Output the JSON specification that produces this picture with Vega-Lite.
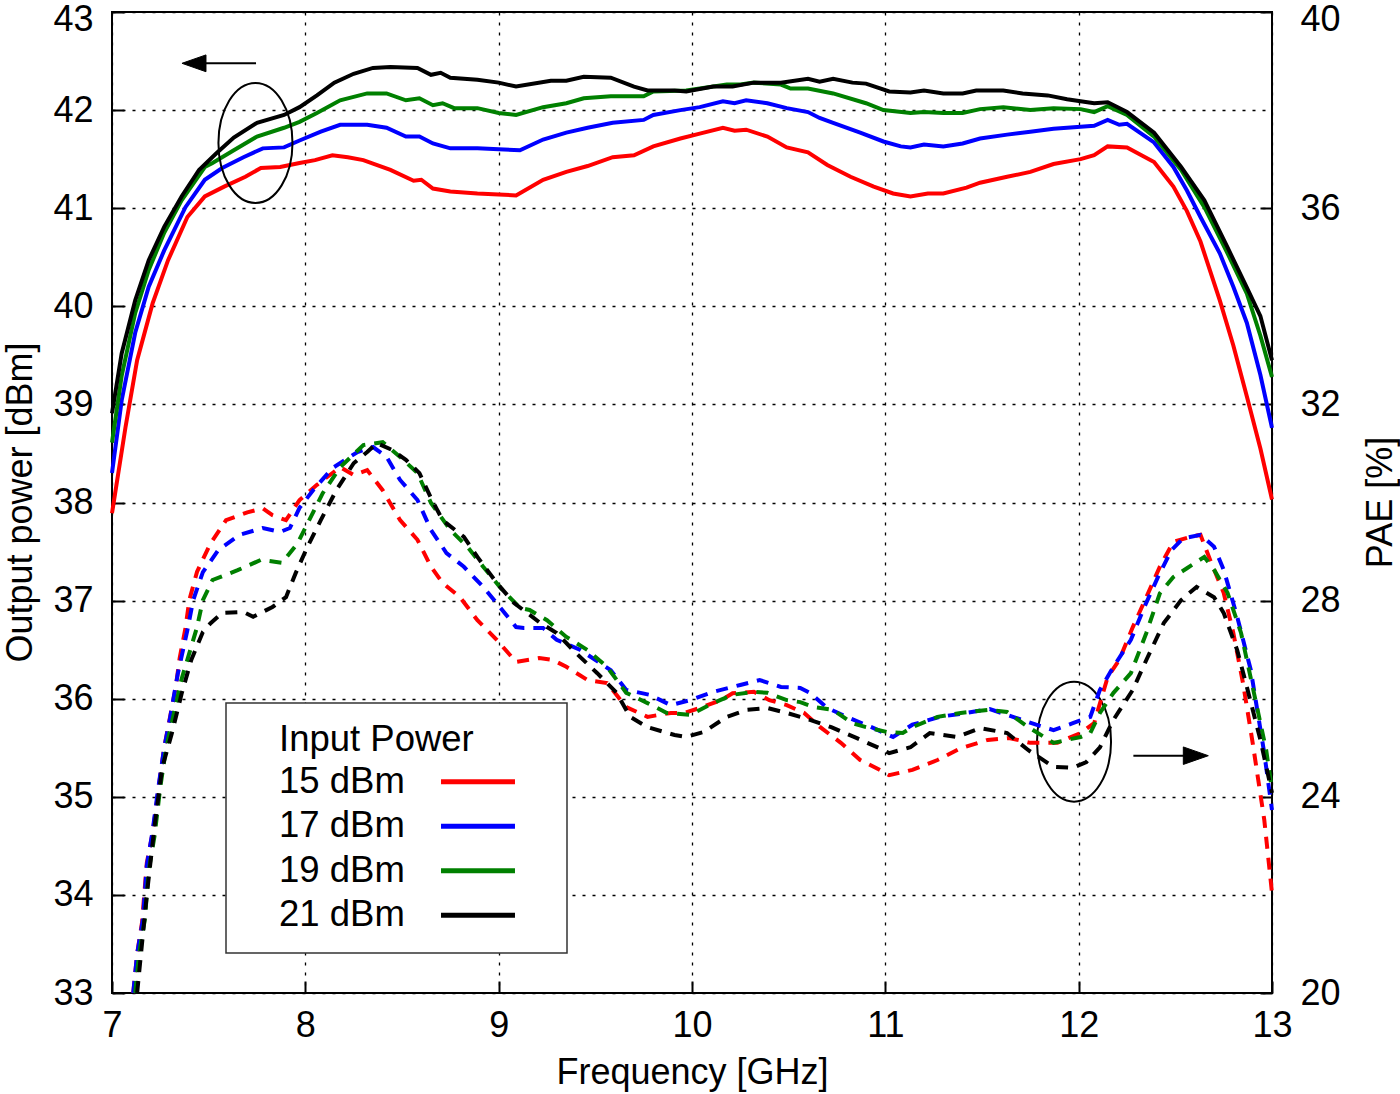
{
"$schema":"https://vega.github.io/schema/vega-lite/v6.json",
"width":1160,"height":981,
"autosize":"none",
"padding":{"left":112,"top":12,"right":128,"bottom":101},
"background":"white",
"config":{
 "font":"Liberation Sans",
 "view":{"stroke":"black","strokeWidth":2},
 "axis":{"labelFont":"Liberation Sans","titleFont":"Liberation Sans","labelFontSize":36,"titleFontSize":36,"titleFontWeight":"normal","labelColor":"black","titleColor":"black","tickColor":"black","tickWidth":2,"tickSize":-12,"domain":false,"labelFlush":false,"labelOverlap":false,"format":"d","gridColor":"black","gridDash":[3,7],"gridWidth":1.3,"gridOpacity":1}
},
"datasets":{
"pw":[
{"s":"15 dBm","f":7.00,"p":37.89},{"s":"15 dBm","f":7.07,"p":38.77},{"s":"15 dBm","f":7.13,"p":39.45},{"s":"15 dBm","f":7.21,"p":40.03},{"s":"15 dBm","f":7.29,"p":40.47},{"s":"15 dBm","f":7.39,"p":40.91},{"s":"15 dBm","f":7.48,"p":41.12},{"s":"15 dBm","f":7.58,"p":41.22},{"s":"15 dBm","f":7.69,"p":41.32},{"s":"15 dBm","f":7.77,"p":41.41},{"s":"15 dBm","f":7.87,"p":41.42},{"s":"15 dBm","f":7.97,"p":41.46},{"s":"15 dBm","f":8.05,"p":41.49},{"s":"15 dBm","f":8.14,"p":41.54},{"s":"15 dBm","f":8.22,"p":41.52},{"s":"15 dBm","f":8.30,"p":41.49},{"s":"15 dBm","f":8.44,"p":41.39},{"s":"15 dBm","f":8.56,"p":41.28},{"s":"15 dBm","f":8.60,"p":41.29},{"s":"15 dBm","f":8.66,"p":41.20},{"s":"15 dBm","f":8.75,"p":41.17},{"s":"15 dBm","f":8.89,"p":41.15},{"s":"15 dBm","f":9.00,"p":41.14},{"s":"15 dBm","f":9.09,"p":41.13},{"s":"15 dBm","f":9.23,"p":41.29},{"s":"15 dBm","f":9.35,"p":41.37},{"s":"15 dBm","f":9.46,"p":41.43},{"s":"15 dBm","f":9.59,"p":41.52},{"s":"15 dBm","f":9.70,"p":41.54},{"s":"15 dBm","f":9.80,"p":41.63},{"s":"15 dBm","f":9.94,"p":41.71},{"s":"15 dBm","f":10.04,"p":41.76},{"s":"15 dBm","f":10.16,"p":41.82},{"s":"15 dBm","f":10.22,"p":41.79},{"s":"15 dBm","f":10.28,"p":41.80},{"s":"15 dBm","f":10.39,"p":41.73},{"s":"15 dBm","f":10.49,"p":41.62},{"s":"15 dBm","f":10.60,"p":41.57},{"s":"15 dBm","f":10.70,"p":41.44},{"s":"15 dBm","f":10.82,"p":41.32},{"s":"15 dBm","f":10.94,"p":41.22},{"s":"15 dBm","f":11.04,"p":41.15},{"s":"15 dBm","f":11.13,"p":41.12},{"s":"15 dBm","f":11.22,"p":41.15},{"s":"15 dBm","f":11.30,"p":41.15},{"s":"15 dBm","f":11.42,"p":41.21},{"s":"15 dBm","f":11.49,"p":41.26},{"s":"15 dBm","f":11.63,"p":41.32},{"s":"15 dBm","f":11.75,"p":41.37},{"s":"15 dBm","f":11.87,"p":41.45},{"s":"15 dBm","f":12.01,"p":41.50},{"s":"15 dBm","f":12.08,"p":41.54},{"s":"15 dBm","f":12.15,"p":41.63},{"s":"15 dBm","f":12.25,"p":41.62},{"s":"15 dBm","f":12.39,"p":41.47},{"s":"15 dBm","f":12.49,"p":41.22},{"s":"15 dBm","f":12.56,"p":40.97},{"s":"15 dBm","f":12.63,"p":40.66},{"s":"15 dBm","f":12.73,"p":40.06},{"s":"15 dBm","f":12.80,"p":39.60},{"s":"15 dBm","f":12.87,"p":39.08},{"s":"15 dBm","f":12.94,"p":38.55},{"s":"15 dBm","f":13.00,"p":38.03},
{"s":"17 dBm","f":7.00,"p":38.30},{"s":"17 dBm","f":7.05,"p":39.04},{"s":"17 dBm","f":7.12,"p":39.73},{"s":"17 dBm","f":7.19,"p":40.20},{"s":"17 dBm","f":7.27,"p":40.57},{"s":"17 dBm","f":7.38,"p":41.01},{"s":"17 dBm","f":7.48,"p":41.29},{"s":"17 dBm","f":7.57,"p":41.41},{"s":"17 dBm","f":7.68,"p":41.52},{"s":"17 dBm","f":7.78,"p":41.61},{"s":"17 dBm","f":7.89,"p":41.62},{"s":"17 dBm","f":7.97,"p":41.69},{"s":"17 dBm","f":8.08,"p":41.78},{"s":"17 dBm","f":8.18,"p":41.85},{"s":"17 dBm","f":8.32,"p":41.85},{"s":"17 dBm","f":8.42,"p":41.82},{"s":"17 dBm","f":8.52,"p":41.73},{"s":"17 dBm","f":8.59,"p":41.73},{"s":"17 dBm","f":8.66,"p":41.66},{"s":"17 dBm","f":8.75,"p":41.61},{"s":"17 dBm","f":8.89,"p":41.61},{"s":"17 dBm","f":9.00,"p":41.60},{"s":"17 dBm","f":9.11,"p":41.59},{"s":"17 dBm","f":9.23,"p":41.70},{"s":"17 dBm","f":9.35,"p":41.77},{"s":"17 dBm","f":9.46,"p":41.82},{"s":"17 dBm","f":9.59,"p":41.87},{"s":"17 dBm","f":9.75,"p":41.90},{"s":"17 dBm","f":9.80,"p":41.95},{"s":"17 dBm","f":9.94,"p":42.00},{"s":"17 dBm","f":10.04,"p":42.03},{"s":"17 dBm","f":10.16,"p":42.09},{"s":"17 dBm","f":10.22,"p":42.07},{"s":"17 dBm","f":10.28,"p":42.10},{"s":"17 dBm","f":10.39,"p":42.07},{"s":"17 dBm","f":10.49,"p":42.02},{"s":"17 dBm","f":10.60,"p":41.98},{"s":"17 dBm","f":10.66,"p":41.92},{"s":"17 dBm","f":10.73,"p":41.87},{"s":"17 dBm","f":10.87,"p":41.77},{"s":"17 dBm","f":10.99,"p":41.68},{"s":"17 dBm","f":11.08,"p":41.63},{"s":"17 dBm","f":11.13,"p":41.62},{"s":"17 dBm","f":11.20,"p":41.65},{"s":"17 dBm","f":11.30,"p":41.63},{"s":"17 dBm","f":11.40,"p":41.66},{"s":"17 dBm","f":11.49,"p":41.71},{"s":"17 dBm","f":11.63,"p":41.75},{"s":"17 dBm","f":11.75,"p":41.78},{"s":"17 dBm","f":11.87,"p":41.81},{"s":"17 dBm","f":12.01,"p":41.83},{"s":"17 dBm","f":12.08,"p":41.84},{"s":"17 dBm","f":12.15,"p":41.90},{"s":"17 dBm","f":12.21,"p":41.85},{"s":"17 dBm","f":12.25,"p":41.86},{"s":"17 dBm","f":12.39,"p":41.67},{"s":"17 dBm","f":12.49,"p":41.42},{"s":"17 dBm","f":12.56,"p":41.18},{"s":"17 dBm","f":12.63,"p":40.91},{"s":"17 dBm","f":12.73,"p":40.54},{"s":"17 dBm","f":12.80,"p":40.20},{"s":"17 dBm","f":12.87,"p":39.83},{"s":"17 dBm","f":12.94,"p":39.30},{"s":"17 dBm","f":13.00,"p":38.76},
{"s":"19 dBm","f":7.00,"p":38.61},{"s":"19 dBm","f":7.05,"p":39.29},{"s":"19 dBm","f":7.12,"p":39.93},{"s":"19 dBm","f":7.19,"p":40.37},{"s":"19 dBm","f":7.27,"p":40.75},{"s":"19 dBm","f":7.36,"p":41.08},{"s":"19 dBm","f":7.48,"p":41.42},{"s":"19 dBm","f":7.52,"p":41.46},{"s":"19 dBm","f":7.63,"p":41.59},{"s":"19 dBm","f":7.75,"p":41.73},{"s":"19 dBm","f":7.89,"p":41.82},{"s":"19 dBm","f":7.97,"p":41.88},{"s":"19 dBm","f":8.06,"p":41.97},{"s":"19 dBm","f":8.18,"p":42.10},{"s":"19 dBm","f":8.32,"p":42.17},{"s":"19 dBm","f":8.42,"p":42.17},{"s":"19 dBm","f":8.52,"p":42.10},{"s":"19 dBm","f":8.59,"p":42.12},{"s":"19 dBm","f":8.66,"p":42.05},{"s":"19 dBm","f":8.71,"p":42.07},{"s":"19 dBm","f":8.77,"p":42.02},{"s":"19 dBm","f":8.89,"p":42.02},{"s":"19 dBm","f":9.00,"p":41.97},{"s":"19 dBm","f":9.09,"p":41.95},{"s":"19 dBm","f":9.23,"p":42.03},{"s":"19 dBm","f":9.35,"p":42.07},{"s":"19 dBm","f":9.44,"p":42.12},{"s":"19 dBm","f":9.58,"p":42.14},{"s":"19 dBm","f":9.75,"p":42.14},{"s":"19 dBm","f":9.80,"p":42.19},{"s":"19 dBm","f":9.97,"p":42.20},{"s":"19 dBm","f":10.18,"p":42.26},{"s":"19 dBm","f":10.25,"p":42.26},{"s":"19 dBm","f":10.32,"p":42.28},{"s":"19 dBm","f":10.46,"p":42.26},{"s":"19 dBm","f":10.51,"p":42.22},{"s":"19 dBm","f":10.60,"p":42.22},{"s":"19 dBm","f":10.73,"p":42.17},{"s":"19 dBm","f":10.90,"p":42.07},{"s":"19 dBm","f":10.99,"p":42.00},{"s":"19 dBm","f":11.13,"p":41.97},{"s":"19 dBm","f":11.20,"p":41.98},{"s":"19 dBm","f":11.30,"p":41.97},{"s":"19 dBm","f":11.40,"p":41.97},{"s":"19 dBm","f":11.49,"p":42.01},{"s":"19 dBm","f":11.61,"p":42.03},{"s":"19 dBm","f":11.75,"p":42.00},{"s":"19 dBm","f":11.87,"p":42.02},{"s":"19 dBm","f":12.01,"p":42.01},{"s":"19 dBm","f":12.08,"p":41.98},{"s":"19 dBm","f":12.15,"p":42.04},{"s":"19 dBm","f":12.25,"p":41.95},{"s":"19 dBm","f":12.39,"p":41.73},{"s":"19 dBm","f":12.53,"p":41.39},{"s":"19 dBm","f":12.65,"p":41.01},{"s":"19 dBm","f":12.77,"p":40.54},{"s":"19 dBm","f":12.87,"p":40.13},{"s":"19 dBm","f":12.94,"p":39.70},{"s":"19 dBm","f":13.00,"p":39.28},
{"s":"21 dBm","f":7.00,"p":38.91},{"s":"21 dBm","f":7.05,"p":39.52},{"s":"21 dBm","f":7.12,"p":40.06},{"s":"21 dBm","f":7.19,"p":40.47},{"s":"21 dBm","f":7.27,"p":40.81},{"s":"21 dBm","f":7.36,"p":41.12},{"s":"21 dBm","f":7.45,"p":41.39},{"s":"21 dBm","f":7.54,"p":41.56},{"s":"21 dBm","f":7.63,"p":41.72},{"s":"21 dBm","f":7.75,"p":41.87},{"s":"21 dBm","f":7.89,"p":41.95},{"s":"21 dBm","f":7.97,"p":42.03},{"s":"21 dBm","f":8.06,"p":42.15},{"s":"21 dBm","f":8.15,"p":42.28},{"s":"21 dBm","f":8.25,"p":42.37},{"s":"21 dBm","f":8.35,"p":42.43},{"s":"21 dBm","f":8.44,"p":42.44},{"s":"21 dBm","f":8.58,"p":42.43},{"s":"21 dBm","f":8.65,"p":42.36},{"s":"21 dBm","f":8.70,"p":42.38},{"s":"21 dBm","f":8.75,"p":42.33},{"s":"21 dBm","f":8.89,"p":42.31},{"s":"21 dBm","f":9.00,"p":42.28},{"s":"21 dBm","f":9.09,"p":42.24},{"s":"21 dBm","f":9.27,"p":42.30},{"s":"21 dBm","f":9.35,"p":42.30},{"s":"21 dBm","f":9.44,"p":42.34},{"s":"21 dBm","f":9.58,"p":42.33},{"s":"21 dBm","f":9.70,"p":42.24},{"s":"21 dBm","f":9.77,"p":42.20},{"s":"21 dBm","f":9.91,"p":42.20},{"s":"21 dBm","f":9.97,"p":42.19},{"s":"21 dBm","f":10.11,"p":42.24},{"s":"21 dBm","f":10.21,"p":42.24},{"s":"21 dBm","f":10.32,"p":42.28},{"s":"21 dBm","f":10.46,"p":42.28},{"s":"21 dBm","f":10.60,"p":42.32},{"s":"21 dBm","f":10.66,"p":42.29},{"s":"21 dBm","f":10.73,"p":42.32},{"s":"21 dBm","f":10.83,"p":42.28},{"s":"21 dBm","f":10.90,"p":42.27},{"s":"21 dBm","f":11.02,"p":42.19},{"s":"21 dBm","f":11.13,"p":42.18},{"s":"21 dBm","f":11.20,"p":42.20},{"s":"21 dBm","f":11.30,"p":42.17},{"s":"21 dBm","f":11.40,"p":42.17},{"s":"21 dBm","f":11.47,"p":42.20},{"s":"21 dBm","f":11.61,"p":42.20},{"s":"21 dBm","f":11.71,"p":42.17},{"s":"21 dBm","f":11.84,"p":42.15},{"s":"21 dBm","f":11.94,"p":42.11},{"s":"21 dBm","f":12.01,"p":42.09},{"s":"21 dBm","f":12.08,"p":42.07},{"s":"21 dBm","f":12.15,"p":42.08},{"s":"21 dBm","f":12.25,"p":41.98},{"s":"21 dBm","f":12.39,"p":41.77},{"s":"21 dBm","f":12.53,"p":41.42},{"s":"21 dBm","f":12.65,"p":41.08},{"s":"21 dBm","f":12.77,"p":40.60},{"s":"21 dBm","f":12.87,"p":40.19},{"s":"21 dBm","f":12.94,"p":39.90},{"s":"21 dBm","f":13.00,"p":39.45}
],
"pae":[
{"s":"15 dBm","f":7.11,"v":20.0},{"s":"15 dBm","f":7.13,"v":20.8},{"s":"15 dBm","f":7.155,"v":21.43},{"s":"15 dBm","f":7.18,"v":22.65},{"s":"15 dBm","f":7.21,"v":23.26},{"s":"15 dBm","f":7.23,"v":23.83},{"s":"15 dBm","f":7.25,"v":24.44},{"s":"15 dBm","f":7.27,"v":25.0},{"s":"15 dBm","f":7.30,"v":25.62},{"s":"15 dBm","f":7.33,"v":26.24},{"s":"15 dBm","f":7.35,"v":26.83},{"s":"15 dBm","f":7.38,"v":27.44},{"s":"15 dBm","f":7.40,"v":28.01},{"s":"15 dBm","f":7.44,"v":28.59},{"s":"15 dBm","f":7.51,"v":29.17},{"s":"15 dBm","f":7.59,"v":29.64},{"s":"15 dBm","f":7.70,"v":29.80},{"s":"15 dBm","f":7.78,"v":29.88},{"s":"15 dBm","f":7.83,"v":29.74},{"s":"15 dBm","f":7.90,"v":29.64},{"s":"15 dBm","f":7.97,"v":30.05},{"s":"15 dBm","f":8.06,"v":30.36},{"s":"15 dBm","f":8.18,"v":30.72},{"s":"15 dBm","f":8.25,"v":30.56},{"s":"15 dBm","f":8.32,"v":30.66},{"s":"15 dBm","f":8.40,"v":30.25},{"s":"15 dBm","f":8.49,"v":29.64},{"s":"15 dBm","f":8.58,"v":29.24},{"s":"15 dBm","f":8.65,"v":28.69},{"s":"15 dBm","f":8.71,"v":28.36},{"s":"15 dBm","f":8.80,"v":28.07},{"s":"15 dBm","f":8.89,"v":27.60},{"s":"15 dBm","f":8.99,"v":27.20},{"s":"15 dBm","f":9.09,"v":26.75},{"s":"15 dBm","f":9.21,"v":26.83},{"s":"15 dBm","f":9.28,"v":26.79},{"s":"15 dBm","f":9.35,"v":26.65},{"s":"15 dBm","f":9.46,"v":26.38},{"s":"15 dBm","f":9.56,"v":26.32},{"s":"15 dBm","f":9.66,"v":25.83},{"s":"15 dBm","f":9.77,"v":25.63},{"s":"15 dBm","f":9.89,"v":25.71},{"s":"15 dBm","f":9.96,"v":25.71},{"s":"15 dBm","f":10.04,"v":25.81},{"s":"15 dBm","f":10.15,"v":25.97},{"s":"15 dBm","f":10.21,"v":26.11},{"s":"15 dBm","f":10.32,"v":26.14},{"s":"15 dBm","f":10.40,"v":25.97},{"s":"15 dBm","f":10.49,"v":25.87},{"s":"15 dBm","f":10.58,"v":25.71},{"s":"15 dBm","f":10.66,"v":25.43},{"s":"15 dBm","f":10.77,"v":25.10},{"s":"15 dBm","f":10.87,"v":24.75},{"s":"15 dBm","f":10.97,"v":24.55},{"s":"15 dBm","f":11.02,"v":24.44},{"s":"15 dBm","f":11.14,"v":24.55},{"s":"15 dBm","f":11.27,"v":24.75},{"s":"15 dBm","f":11.39,"v":24.99},{"s":"15 dBm","f":11.53,"v":25.16},{"s":"15 dBm","f":11.64,"v":25.20},{"s":"15 dBm","f":11.75,"v":25.10},{"s":"15 dBm","f":11.89,"v":25.10},{"s":"15 dBm","f":12.01,"v":25.30},{"s":"15 dBm","f":12.08,"v":25.50},{"s":"15 dBm","f":12.15,"v":26.44},{"s":"15 dBm","f":12.21,"v":26.79},{"s":"15 dBm","f":12.28,"v":27.46},{"s":"15 dBm","f":12.35,"v":28.07},{"s":"15 dBm","f":12.42,"v":28.69},{"s":"15 dBm","f":12.49,"v":29.20},{"s":"15 dBm","f":12.58,"v":29.30},{"s":"15 dBm","f":12.63,"v":29.34},{"s":"15 dBm","f":12.68,"v":28.83},{"s":"15 dBm","f":12.75,"v":28.16},{"s":"15 dBm","f":12.80,"v":27.34},{"s":"15 dBm","f":12.85,"v":26.32},{"s":"15 dBm","f":12.90,"v":25.10},{"s":"15 dBm","f":12.96,"v":23.53},{"s":"15 dBm","f":13.00,"v":22.04},
{"s":"17 dBm","f":7.11,"v":20.0},{"s":"17 dBm","f":7.13,"v":20.8},{"s":"17 dBm","f":7.16,"v":21.5},{"s":"17 dBm","f":7.18,"v":22.6},{"s":"17 dBm","f":7.21,"v":23.3},{"s":"17 dBm","f":7.24,"v":24.2},{"s":"17 dBm","f":7.27,"v":25.0},{"s":"17 dBm","f":7.30,"v":25.6},{"s":"17 dBm","f":7.34,"v":26.5},{"s":"17 dBm","f":7.39,"v":27.4},{"s":"17 dBm","f":7.42,"v":28.01},{"s":"17 dBm","f":7.47,"v":28.58},{"s":"17 dBm","f":7.55,"v":29.03},{"s":"17 dBm","f":7.66,"v":29.34},{"s":"17 dBm","f":7.78,"v":29.48},{"s":"17 dBm","f":7.87,"v":29.40},{"s":"17 dBm","f":7.92,"v":29.48},{"s":"17 dBm","f":7.97,"v":29.89},{"s":"17 dBm","f":8.04,"v":30.25},{"s":"17 dBm","f":8.14,"v":30.70},{"s":"17 dBm","f":8.27,"v":31.03},{"s":"17 dBm","f":8.35,"v":31.13},{"s":"17 dBm","f":8.42,"v":30.93},{"s":"17 dBm","f":8.49,"v":30.46},{"s":"17 dBm","f":8.58,"v":30.05},{"s":"17 dBm","f":8.65,"v":29.44},{"s":"17 dBm","f":8.73,"v":28.97},{"s":"17 dBm","f":8.82,"v":28.69},{"s":"17 dBm","f":8.92,"v":28.28},{"s":"17 dBm","f":9.00,"v":27.90},{"s":"17 dBm","f":9.09,"v":27.46},{"s":"17 dBm","f":9.13,"v":27.44},{"s":"17 dBm","f":9.23,"v":27.44},{"s":"17 dBm","f":9.30,"v":27.20},{"s":"17 dBm","f":9.42,"v":27.00},{"s":"17 dBm","f":9.58,"v":26.58},{"s":"17 dBm","f":9.66,"v":26.18},{"s":"17 dBm","f":9.78,"v":26.08},{"s":"17 dBm","f":9.89,"v":25.87},{"s":"17 dBm","f":9.99,"v":25.97},{"s":"17 dBm","f":10.11,"v":26.14},{"s":"17 dBm","f":10.25,"v":26.28},{"s":"17 dBm","f":10.35,"v":26.38},{"s":"17 dBm","f":10.46,"v":26.24},{"s":"17 dBm","f":10.56,"v":26.22},{"s":"17 dBm","f":10.61,"v":26.12},{"s":"17 dBm","f":10.70,"v":25.81},{"s":"17 dBm","f":10.80,"v":25.63},{"s":"17 dBm","f":10.94,"v":25.40},{"s":"17 dBm","f":11.04,"v":25.22},{"s":"17 dBm","f":11.14,"v":25.47},{"s":"17 dBm","f":11.28,"v":25.63},{"s":"17 dBm","f":11.42,"v":25.71},{"s":"17 dBm","f":11.54,"v":25.79},{"s":"17 dBm","f":11.66,"v":25.63},{"s":"17 dBm","f":11.78,"v":25.47},{"s":"17 dBm","f":11.87,"v":25.36},{"s":"17 dBm","f":11.97,"v":25.50},{"s":"17 dBm","f":12.06,"v":25.63},{"s":"17 dBm","f":12.11,"v":26.18},{"s":"17 dBm","f":12.18,"v":26.65},{"s":"17 dBm","f":12.27,"v":27.20},{"s":"17 dBm","f":12.34,"v":27.87},{"s":"17 dBm","f":12.41,"v":28.48},{"s":"17 dBm","f":12.48,"v":29.03},{"s":"17 dBm","f":12.54,"v":29.27},{"s":"17 dBm","f":12.63,"v":29.34},{"s":"17 dBm","f":12.70,"v":29.10},{"s":"17 dBm","f":12.75,"v":28.63},{"s":"17 dBm","f":12.82,"v":27.67},{"s":"17 dBm","f":12.89,"v":26.59},{"s":"17 dBm","f":12.96,"v":24.89},{"s":"17 dBm","f":13.00,"v":23.73},
{"s":"19 dBm","f":7.12,"v":20.0},{"s":"19 dBm","f":7.14,"v":20.8},{"s":"19 dBm","f":7.17,"v":21.5},{"s":"19 dBm","f":7.19,"v":22.5},{"s":"19 dBm","f":7.22,"v":23.2},{"s":"19 dBm","f":7.25,"v":24.2},{"s":"19 dBm","f":7.28,"v":25.0},{"s":"19 dBm","f":7.32,"v":25.7},{"s":"19 dBm","f":7.36,"v":26.4},{"s":"19 dBm","f":7.40,"v":26.93},{"s":"19 dBm","f":7.44,"v":27.46},{"s":"19 dBm","f":7.47,"v":28.01},{"s":"19 dBm","f":7.52,"v":28.42},{"s":"19 dBm","f":7.65,"v":28.62},{"s":"19 dBm","f":7.77,"v":28.83},{"s":"19 dBm","f":7.88,"v":28.77},{"s":"19 dBm","f":7.96,"v":29.17},{"s":"19 dBm","f":8.02,"v":29.64},{"s":"19 dBm","f":8.09,"v":30.19},{"s":"19 dBm","f":8.18,"v":30.72},{"s":"19 dBm","f":8.30,"v":31.17},{"s":"19 dBm","f":8.40,"v":31.23},{"s":"19 dBm","f":8.49,"v":30.93},{"s":"19 dBm","f":8.58,"v":30.60},{"s":"19 dBm","f":8.65,"v":29.99},{"s":"19 dBm","f":8.75,"v":29.44},{"s":"19 dBm","f":8.84,"v":29.09},{"s":"19 dBm","f":8.92,"v":28.69},{"s":"19 dBm","f":9.01,"v":28.26},{"s":"19 dBm","f":9.11,"v":27.85},{"s":"19 dBm","f":9.16,"v":27.81},{"s":"19 dBm","f":9.25,"v":27.60},{"s":"19 dBm","f":9.35,"v":27.26},{"s":"19 dBm","f":9.46,"v":26.99},{"s":"19 dBm","f":9.56,"v":26.65},{"s":"19 dBm","f":9.66,"v":26.12},{"s":"19 dBm","f":9.77,"v":25.91},{"s":"19 dBm","f":9.87,"v":25.71},{"s":"19 dBm","f":9.99,"v":25.67},{"s":"19 dBm","f":10.11,"v":25.91},{"s":"19 dBm","f":10.21,"v":26.08},{"s":"19 dBm","f":10.32,"v":26.14},{"s":"19 dBm","f":10.39,"v":26.12},{"s":"19 dBm","f":10.49,"v":25.97},{"s":"19 dBm","f":10.56,"v":25.93},{"s":"19 dBm","f":10.63,"v":25.83},{"s":"19 dBm","f":10.73,"v":25.77},{"s":"19 dBm","f":10.83,"v":25.50},{"s":"19 dBm","f":10.90,"v":25.42},{"s":"19 dBm","f":11.01,"v":25.32},{"s":"19 dBm","f":11.09,"v":25.30},{"s":"19 dBm","f":11.14,"v":25.42},{"s":"19 dBm","f":11.27,"v":25.63},{"s":"19 dBm","f":11.39,"v":25.71},{"s":"19 dBm","f":11.53,"v":25.77},{"s":"19 dBm","f":11.63,"v":25.73},{"s":"19 dBm","f":11.74,"v":25.42},{"s":"19 dBm","f":11.87,"v":25.10},{"s":"19 dBm","f":12.01,"v":25.22},{"s":"19 dBm","f":12.06,"v":25.30},{"s":"19 dBm","f":12.11,"v":25.71},{"s":"19 dBm","f":12.18,"v":26.12},{"s":"19 dBm","f":12.27,"v":26.52},{"s":"19 dBm","f":12.35,"v":27.34},{"s":"19 dBm","f":12.42,"v":28.15},{"s":"19 dBm","f":12.49,"v":28.48},{"s":"19 dBm","f":12.56,"v":28.66},{"s":"19 dBm","f":12.65,"v":28.89},{"s":"19 dBm","f":12.70,"v":28.63},{"s":"19 dBm","f":12.77,"v":28.16},{"s":"19 dBm","f":12.84,"v":27.34},{"s":"19 dBm","f":12.90,"v":26.24},{"s":"19 dBm","f":12.97,"v":24.95},{"s":"19 dBm","f":13.00,"v":24.14},
{"s":"21 dBm","f":7.13,"v":20.0},{"s":"21 dBm","f":7.18,"v":22.0},{"s":"21 dBm","f":7.22,"v":23.4},{"s":"21 dBm","f":7.26,"v":24.6},{"s":"21 dBm","f":7.31,"v":25.3},{"s":"21 dBm","f":7.36,"v":26.1},{"s":"21 dBm","f":7.41,"v":26.79},{"s":"21 dBm","f":7.47,"v":27.36},{"s":"21 dBm","f":7.51,"v":27.54},{"s":"21 dBm","f":7.57,"v":27.75},{"s":"21 dBm","f":7.68,"v":27.77},{"s":"21 dBm","f":7.73,"v":27.67},{"s":"21 dBm","f":7.83,"v":27.87},{"s":"21 dBm","f":7.90,"v":28.07},{"s":"21 dBm","f":7.95,"v":28.56},{"s":"21 dBm","f":8.01,"v":29.09},{"s":"21 dBm","f":8.08,"v":29.64},{"s":"21 dBm","f":8.16,"v":30.25},{"s":"21 dBm","f":8.25,"v":30.80},{"s":"21 dBm","f":8.32,"v":31.03},{"s":"21 dBm","f":8.37,"v":31.21},{"s":"21 dBm","f":8.45,"v":31.07},{"s":"21 dBm","f":8.52,"v":30.87},{"s":"21 dBm","f":8.59,"v":30.60},{"s":"21 dBm","f":8.65,"v":30.09},{"s":"21 dBm","f":8.71,"v":29.64},{"s":"21 dBm","f":8.82,"v":29.30},{"s":"21 dBm","f":8.89,"v":28.89},{"s":"21 dBm","f":8.99,"v":28.36},{"s":"21 dBm","f":9.08,"v":27.95},{"s":"21 dBm","f":9.21,"v":27.56},{"s":"21 dBm","f":9.30,"v":27.34},{"s":"21 dBm","f":9.40,"v":26.93},{"s":"21 dBm","f":9.51,"v":26.52},{"s":"21 dBm","f":9.61,"v":26.12},{"s":"21 dBm","f":9.68,"v":25.63},{"s":"21 dBm","f":9.77,"v":25.42},{"s":"21 dBm","f":9.91,"v":25.26},{"s":"21 dBm","f":9.97,"v":25.22},{"s":"21 dBm","f":10.06,"v":25.32},{"s":"21 dBm","f":10.18,"v":25.63},{"s":"21 dBm","f":10.28,"v":25.77},{"s":"21 dBm","f":10.39,"v":25.81},{"s":"21 dBm","f":10.49,"v":25.71},{"s":"21 dBm","f":10.61,"v":25.57},{"s":"21 dBm","f":10.72,"v":25.42},{"s":"21 dBm","f":10.85,"v":25.20},{"s":"21 dBm","f":10.97,"v":24.99},{"s":"21 dBm","f":11.02,"v":24.89},{"s":"21 dBm","f":11.13,"v":25.01},{"s":"21 dBm","f":11.23,"v":25.30},{"s":"21 dBm","f":11.37,"v":25.22},{"s":"21 dBm","f":11.49,"v":25.40},{"s":"21 dBm","f":11.63,"v":25.30},{"s":"21 dBm","f":11.74,"v":24.95},{"s":"21 dBm","f":11.87,"v":24.61},{"s":"21 dBm","f":11.97,"v":24.59},{"s":"21 dBm","f":12.04,"v":24.71},{"s":"21 dBm","f":12.11,"v":25.01},{"s":"21 dBm","f":12.18,"v":25.57},{"s":"21 dBm","f":12.28,"v":26.18},{"s":"21 dBm","f":12.35,"v":26.79},{"s":"21 dBm","f":12.44,"v":27.54},{"s":"21 dBm","f":12.53,"v":28.01},{"s":"21 dBm","f":12.61,"v":28.28},{"s":"21 dBm","f":12.70,"v":28.07},{"s":"21 dBm","f":12.75,"v":27.75},{"s":"21 dBm","f":12.82,"v":26.99},{"s":"21 dBm","f":12.87,"v":26.24},{"s":"21 dBm","f":12.94,"v":25.16},{"s":"21 dBm","f":13.00,"v":24.08}
],
"ell":[{"f":7.742,"p":41.665},{"f":11.976,"p":35.562}],
"arr":[{"f":7.486,"f2":7.745,"p":42.477},{"f":12.283,"f2":12.55,"p":35.419}],
"headl":[{"f":7.424,"p":42.477}],
"headr":[{"f":12.606,"p":35.419}]
},
"layer":[
 {"layer":[
  {"data":{"name":"pw"},"mark":{"type":"line","strokeWidth":4},
   "encoding":{
    "x":{"field":"f","type":"quantitative","scale":{"domain":[7,13],"nice":false,"zero":false},
         "axis":{"values":[7,8,9,10,11,12,13],"title":"Frequency [GHz]","grid":true,"labelPadding":27,"titleX":580,"titleY":79,"titleBaseline":"middle"}},
    "y":{"field":"p","type":"quantitative","scale":{"domain":[33,43],"nice":false,"zero":false},
         "axis":{"orient":"left","values":[33,34,35,36,37,38,39,40,41,42,43],"title":"Output power [dBm]","grid":true,"labelPadding":31,"titleX":-92,"titleY":490,"titleBaseline":"middle",
                 "labelOffset":{"condition":{"test":"datum.value == 43","value":7},"value":0}}},
    "color":{"field":"s","type":"nominal",
      "scale":{"domain":["15 dBm","17 dBm","19 dBm","21 dBm"],"range":["#ff0000","#0000ff","#008000","#000000"]},
      "legend":{"orient":"none","legendX":114,"legendY":691,"title":"Input Power       \u200a\u200b","titleLimit":2000,"titleFontSize":36.5,"titleFontWeight":"normal","titleColor":"black","labelFontSize":36.5,"labelColor":"black","labelLimit":1000,"titlePadding":5,"rowPadding":7.5,"padding":19,"fillColor":"white","strokeColor":"#333333","symbolType":"M -4 0 L 4 0","symbolSize":342,"symbolStrokeWidth":5,
        "encode":{"symbols":{"update":{"x":{"value":233}}},"labels":{"update":{"x":{"value":34}}},"title":{"update":{"dx":{"value":34}}},"legend":{"update":{"strokeWidth":{"value":1.5}}}}}}
   }},
  {"data":{"name":"ell"},"mark":{"type":"point","shape":"M0.617,0 C0.617,0.552 0.341,1 0,1 C-0.341,1 -0.617,0.552 -0.617,0 C-0.617,-0.552 -0.341,-1 0,-1 C0.341,-1 0.617,-0.552 0.617,0 Z","size":14400,"filled":false,"stroke":"black","strokeWidth":2,"opacity":1},
   "encoding":{"x":{"field":"f","type":"quantitative"},"y":{"field":"p","type":"quantitative"}}},
  {"data":{"name":"arr"},"mark":{"type":"rule","stroke":"black","strokeWidth":2},
   "encoding":{"x":{"field":"f","type":"quantitative"},"x2":{"field":"f2"},"y":{"field":"p","type":"quantitative"}}},
  {"data":{"name":"headl"},"mark":{"type":"point","shape":"M -1 0 L 1 -0.7 L 1 0.7 Z","size":576,"filled":true,"fill":"black","stroke":"black","strokeWidth":1,"opacity":1},
   "encoding":{"x":{"field":"f","type":"quantitative"},"y":{"field":"p","type":"quantitative"}}},
  {"data":{"name":"headr"},"mark":{"type":"point","shape":"M 1 0 L -1 -0.7 L -1 0.7 Z","size":625,"filled":true,"fill":"black","stroke":"black","strokeWidth":1,"opacity":1},
   "encoding":{"x":{"field":"f","type":"quantitative"},"y":{"field":"p","type":"quantitative"}}}
 ]},
 {"data":{"name":"pae"},"mark":{"type":"line","strokeWidth":4,"strokeDash":[12,9]},
  "encoding":{
   "x":{"field":"f","type":"quantitative"},
   "y":{"field":"v","type":"quantitative","scale":{"domain":[20,40],"nice":false,"zero":false},
        "axis":{"orient":"right","values":[20,24,28,32,36,40],"title":"PAE [%]","grid":false,"labelPadding":40,"titleAngle":270,"titleX":108,"titleY":490,"titleBaseline":"middle",
                "labelOffset":{"condition":{"test":"datum.value == 40","value":7},"value":0}}},
   "color":{"field":"s","type":"nominal"}
  }}
],
"resolve":{"scale":{"y":"independent"}}
}
